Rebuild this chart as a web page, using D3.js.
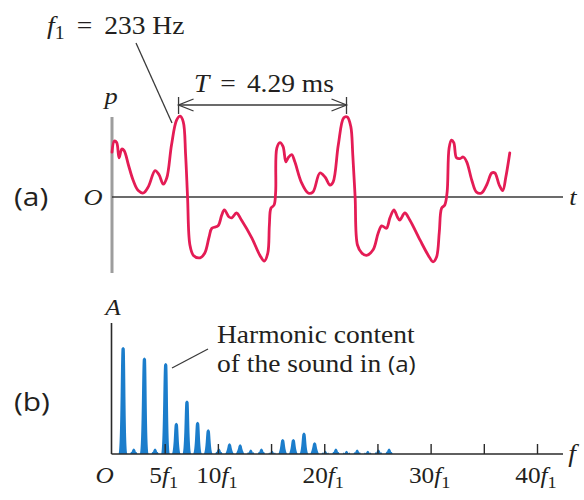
<!DOCTYPE html>
<meta charset="utf-8">
<style>
  body { margin: 0; background: #fff; }
  text { font-family: "Liberation Serif", "Times New Roman", serif; fill: #231f20; }
  .sans { font-family: "Open Sans", "DejaVu Sans", sans-serif; }
  .wave { fill: none; stroke: #e41c55; stroke-width: 2.8px; stroke-linejoin: round; stroke-linecap: round; }
  .peak { fill: #1b7dcb; }
  .thin { stroke: #3a3a3a; stroke-width: 1.3px; fill: none; }
</style>

<body>
  <script src="https://cdn.jsdelivr.net/npm/d3@7"></script>
  <script>

    // (a) pressure vs time (time in ms, pressure in arbitrary units)
    var waveTime = [0.00, 0.06, 0.12, 0.18, 0.25, 0.31, 0.42, 0.54, 0.67, 0.80,
      0.93, 1.10, 1.20, 1.31, 1.40, 1.52, 1.65, 1.74, 1.82, 1.88,
      1.93, 1.99, 2.08, 2.25, 2.37, 2.48, 2.55, 2.71, 2.80, 2.87,
      2.99, 3.06, 3.18, 3.31, 3.57, 3.78, 3.89, 3.98, 4.02, 4.06,
      4.14, 4.18, 4.21, 4.29, 4.37, 4.44, 4.50, 4.59, 4.67, 4.84,
      5.01, 5.13, 5.31, 5.44, 5.57, 5.65, 5.78, 5.92, 6.01, 6.10,
      6.15, 6.21, 6.27, 6.38, 6.50, 6.67, 6.80, 6.89, 7.01, 7.10,
      7.20, 7.29, 7.35, 7.48, 7.61, 7.87, 8.08, 8.20, 8.29, 8.36,
      8.42, 8.50, 8.56, 8.61, 8.67, 8.73, 8.80, 8.89, 8.97, 9.06,
      9.19, 9.31, 9.44, 9.57, 9.70, 9.78, 9.89, 9.98, 10.06, 10.16];
    var wavePressure = [0.56, 0.70, 0.68, 0.49, 0.60, 0.58, 0.40, 0.21, 0.08, 0.05,
      0.13, 0.33, 0.28, 0.16, 0.24, 0.65, 0.96, 1.01, 0.94, 0.53,
      0.00, -0.60, -0.73, -0.76, -0.70, -0.50, -0.39, -0.36, -0.23, -0.16,
      -0.25, -0.26, -0.20, -0.29, -0.51, -0.73, -0.80, -0.70, -0.35, -0.14,
      -0.10, 0.06, 0.61, 0.68, 0.63, 0.44, 0.49, 0.53, 0.44, 0.18,
      0.05, 0.06, 0.30, 0.25, 0.15, 0.19, 0.65, 0.99, 1.00, 0.88,
      0.53, 0.00, -0.60, -0.70, -0.73, -0.66, -0.45, -0.36, -0.39, -0.26,
      -0.16, -0.25, -0.29, -0.20, -0.29, -0.54, -0.73, -0.81, -0.75, -0.44,
      -0.14, -0.10, 0.06, 0.61, 0.71, 0.68, 0.49, 0.48, 0.50, 0.44,
      0.21, 0.06, 0.05, 0.15, 0.30, 0.30, 0.15, 0.08, 0.25, 0.55];

    var periodMs = 4.29;
    var firstPeakMs = 1.70;
    var f1Label = "233 Hz";
    var periodLabel = "4.29 ms";

    // (b) harmonic spectrum
    var harmonics = d3.range(1, 27);
    var amplitudes = [1.00, 0.05, 0.90, 0.05, 0.85, 0.29, 0.50, 0.30, 0.23, 0.05,
      0.10, 0.09, 0.04, 0.05, 0.03, 0.14, 0.14, 0.20, 0.11, 0.03,
      0.05, 0.03, 0.04, 0.03, 0.04, 0.05];
    var tickHarmonics = [5, 10, 15, 20, 25, 30, 35, 40];
    var labelHarmonics = [0, 5, 10, 20, 30, 40];

    var width = 584, height = 500;

    var svg = d3.select("body").append("svg")
      .attr("width", width)
      .attr("height", height);

    // scales
    var xt = d3.scaleLinear().domain([0, 11.52]).range([112, 563]);
    var yp = d3.scaleLinear().domain([-1, 1]).range([277, 117]);
    var xf = d3.scaleLinear().domain([0, 40]).range([111.5, 537]);
    var ya = d3.scaleLinear().domain([0, 1]).range([454, 347]);

    // text helper, the source lettering is a bit wide
    function label(x, y, size, anchor, sx) {
      return svg.append("text")
        .attr("transform", "translate(" + x + "," + y + ") scale(" + (sx || 1.1) + ",1)")
        .attr("font-size", size)
        .attr("text-anchor", anchor || "start");
    }
    function sub(t, s) {
      t.append("tspan").attr("dy", 5).attr("font-size", "0.72em").text(s);
    }

    // ---------- (a) ----------
    svg.append("line")
      .attr("x1", xt(0)).attr("x2", xt(0))
      .attr("y1", yp(1)).attr("y2", yp(-0.95))
      .attr("stroke", "#9d9d9d").attr("stroke-width", 3);

    svg.append("line").attr("class", "thin")
      .attr("x1", xt(0)).attr("x2", xt(11.52))
      .attr("y1", yp(0)).attr("y2", yp(0))
      .attr("stroke", "#555");

    var wave = d3.zip(waveTime, wavePressure);
    svg.append("path")
      .attr("class", "wave")
      .attr("d", d3.line()
        .x(function (d) { return xt(d[0]); })
        .y(function (d) { return yp(d[1]); })
        .curve(d3.curveCatmullRom.alpha(0.5))(wave));

    // period arrow
    var ax1 = xt(firstPeakMs), ax2 = xt(firstPeakMs + periodMs), ay = 105;
    var arrow = svg.append("g").attr("class", "thin");
    arrow.append("line").attr("x1", ax1).attr("x2", ax2).attr("y1", ay).attr("y2", ay);
    [ax1, ax2].forEach(function (x) {
      arrow.append("line").attr("x1", x).attr("x2", x).attr("y1", ay - 8).attr("y2", ay + 9);
    });
    arrow.append("path").attr("d", "M" + (ax1 + 15) + "," + (ay - 6) + "L" + ax1 + "," + ay + "L" + (ax1 + 15) + "," + (ay + 6));
    arrow.append("path").attr("d", "M" + (ax2 - 15) + "," + (ay - 6) + "L" + ax2 + "," + ay + "L" + (ax2 - 15) + "," + (ay + 6));

    var tl = label(264, 92, 25, "middle");
    tl.append("tspan").attr("font-style", "italic").text("T");
    tl.append("tspan").attr("dx", 10).text("=");
    tl.append("tspan").attr("dx", 10).text(periodLabel);

    // f1 label and leader
    var fl = label(47, 34, 25);
    fl.append("tspan").attr("font-style", "italic").text("f");
    sub(fl, "1");
    fl.append("tspan").attr("dy", -5).attr("dx", 11).text("=");
    fl.append("tspan").attr("dx", 11).text(f1Label);
    svg.append("line").attr("class", "thin")
      .attr("x1", 136).attr("y1", 43).attr("x2", 172).attr("y2", 123);

    label(111, 104, 24, "middle").attr("font-style", "italic").text("p");
    label(93, 205, 24, "middle").attr("font-style", "italic").text("O");
    label(573, 205, 24, "middle").attr("font-style", "italic").text("t");
    label(14, 206, 26, "start", 1.15).attr("class", "sans").attr("font-weight", 500).text("(a)");

    // ---------- (b) ----------
    svg.append("line")
      .attr("x1", xf(0)).attr("x2", xf(0))
      .attr("y1", 323).attr("y2", ya(0))
      .attr("stroke", "#2a2a2a").attr("stroke-width", 1.6);

    svg.selectAll(".peak")
      .data(harmonics)
      .enter().append("path")
      .attr("class", "peak")
      .attr("d", function (n, i) {
        var x = xf(n) + 1, b = ya(0), t = ya(amplitudes[i]);
        var w = amplitudes[i] > 0.08 ? 4.3 : 3.6;
        return "M" + (x - w) + "," + b +
          "C" + (x - 2.4) + "," + (b - 4) + " " + (x - 2.3) + "," + (t + 5) + " " + (x - 1.6) + "," + (t + 1.6) +
          "Q" + x + "," + (t - 1.8) + " " + (x + 1.6) + "," + (t + 1.6) +
          "C" + (x + 2.3) + "," + (t + 5) + " " + (x + 2.4) + "," + (b - 4) + " " + (x + w) + "," + b + "Z";
      });

    var xAxis = d3.axisBottom(xf)
      .tickValues(tickHarmonics)
      .tickSizeInner(-10)
      .tickSizeOuter(0)
      .tickFormat("");
    var gx = svg.append("g")
      .attr("transform", "translate(0," + ya(0) + ")")
      .call(xAxis);
    gx.select(".domain").remove();
    gx.selectAll(".tick line").attr("stroke", "#2a2a2a").attr("stroke-width", 1.4);

    svg.append("line")
      .attr("x1", xf(0)).attr("x2", 563)
      .attr("y1", ya(0)).attr("y2", ya(0))
      .attr("stroke", "#2a2a2a").attr("stroke-width", 1.6);

    labelHarmonics.forEach(function (n) {
      if (n === 0) {
        label(xf(0) - 7, 483, 23, "middle").attr("font-style", "italic").text("O");
        return;
      }
      var t = label(xf(n) - 1, 483, 23, "middle");
      t.append("tspan").text(n);
      t.append("tspan").attr("font-style", "italic").text("f");
      sub(t, "1");
    });

    label(113, 315, 23, "middle").attr("font-style", "italic").text("A");
    label(572, 462, 25, "middle").attr("font-style", "italic").text("f");
    label(14, 411, 26, "start", 1.15).attr("class", "sans").attr("font-weight", 500).text("(b)");

    var h1 = label(217, 343, 25);
    h1.text("Harmonic content");
    var h2 = label(217, 372, 25);
    h2.append("tspan").text("of the sound in ");
    h2.append("tspan").attr("class", "sans").attr("font-size", 22).text("(a)");
    svg.append("line").attr("class", "thin")
      .attr("x1", 208).attr("y1", 349).attr("x2", 172).attr("y2", 368);

  </script>
</body>

</html>
